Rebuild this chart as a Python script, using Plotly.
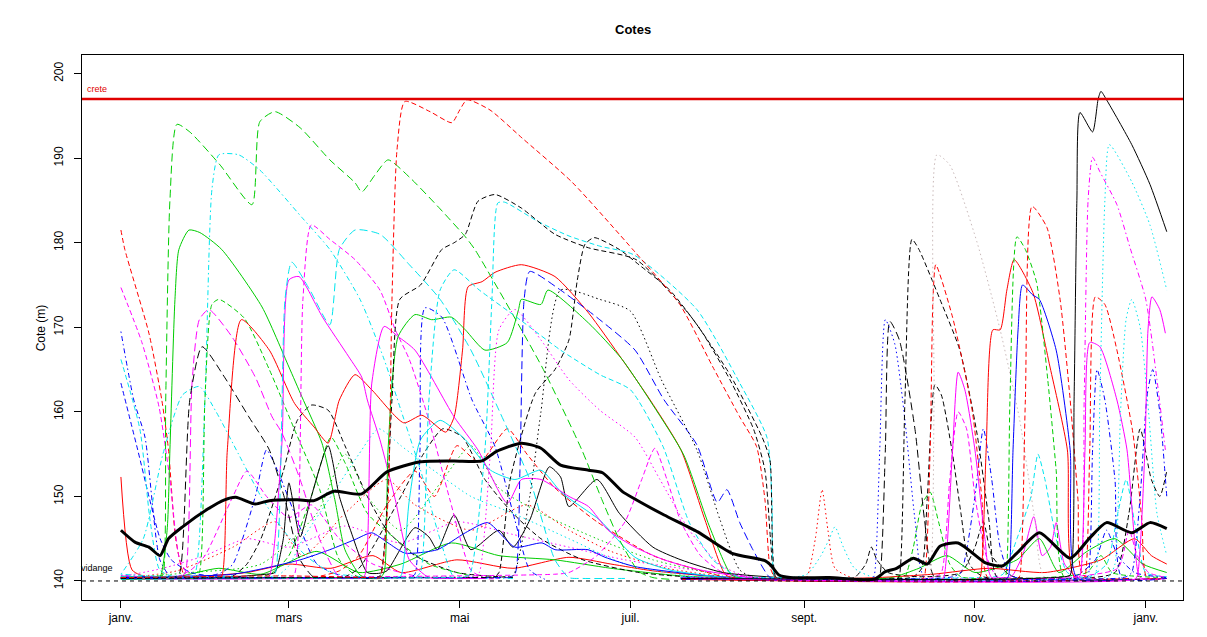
import plotly.graph_objects as go

# ---------------------------------------------------------------------------
# Axes : day of year (leap year) and French month labels
# ---------------------------------------------------------------------------
mois_jours = [0, 60, 121, 182, 244, 305, 366]
mois_labels = ["janv.", "mars", "mai", "juil.", "sept.", "nov.", "janv."]
cote_ticks = [140, 150, 160, 170, 180, 190, 200]

cote_crete = 197.0
cote_vidange = 140.0

# ---------------------------------------------------------------------------
# Simulated reservoir levels: (day, level in m)
# ---------------------------------------------------------------------------
moyenne = [(0, 146.0), (5, 144.6), (10, 144.0), (14, 143.0), (17, 145.0), (22, 146.4),
           (31, 148.5), (37, 149.6), (41, 149.9), (48, 149.1), (53, 149.5), (63, 149.6),
           (69, 149.5), (76, 150.6), (86, 150.3), (95, 152.9), (107, 154.1), (119, 154.2),
           (129, 154.2), (134, 155.3), (143, 156.3), (150, 155.7), (157, 153.7), (167, 153.1),
           (172, 152.8), (179, 150.6), (184, 149.6), (194, 147.8), (206, 145.8), (218, 143.3),
           (230, 142.4), (232, 141.9), (235, 140.7), (239, 140.4), (253, 140.4), (269, 140.2),
           (273, 141.1), (277, 141.5), (283, 142.7), (288, 142.0), (292.5, 144.1), (299, 144.5),
           (309, 142.1), (315, 141.8), (320, 143.3), (328, 145.7), (339, 142.7), (346, 145.1),
           (352, 146.9), (361, 145.7), (367.5, 146.9), (373.5, 146.2)]

s_rouge_tir = [(0, 140.4), (60, 140.6), (90, 140.4), (92.5, 140.4), (95.4, 149.6), (96.8, 173.3),
               (98.6, 191.0), (101.4, 196.7), (110.4, 195.5), (118.2, 194.2), (121, 195.7),
               (123.6, 196.9), (131.8, 195.7), (143.2, 192.4), (161, 187.2), (183.6, 178.9),
               (199.6, 172.7), (211.4, 165.3), (221, 159.4), (227, 155.9), (230, 149.6),
               (231.8, 141.7), (233.6, 140.4), (237, 140.3), (250, 140.3)]

s_vert_long = [(0, 140.3), (10, 140.4), (14, 140.6), (15, 140.7), (16, 161.4), (17.5, 185.0),
               (20, 194.0), (24.6, 193.1), (35.4, 189.2), (46.8, 184.5), (49.6, 194.3), (55, 195.5),
               (64, 193.6), (74.6, 189.8), (83.6, 187.1), (86, 186.0), (90.7, 188.0), (95.4, 189.8),
               (103.2, 187.7), (114, 184.0), (123, 180.7), (126.4, 179.2), (150.4, 165.3),
               (164.6, 155.5), (171.8, 149.6), (178, 144.9), (185, 141.1), (190, 140.4), (196, 140.2)]

s_vert_plein = [(0, 140.3), (12, 140.4), (14, 140.5), (16.5, 146.0), (17.5, 155.5), (19.3, 173.3),
                (20.7, 179.2), (24.3, 181.5), (28.2, 181.2), (36, 179.2), (50.4, 172.4), (60, 165.3),
                (64.6, 161.8), (71.8, 156.3), (76.4, 149.6), (80, 143.7), (85.4, 140.7), (89, 140.3),
                (95, 140.3)]

s_rouge_plein = [(0, 140.3), (34, 140.4), (36, 140.6), (38, 155.5), (43, 170.9), (53, 167.3),
                 (62, 161.0), (69, 158.2), (74, 156.3), (78, 161.4), (83.6, 164.4), (89.6, 162.6),
                 (101, 158.7), (107.5, 159.6), (116, 157.6), (119, 159.4), (122, 167.3), (124, 174.8),
                 (129, 175.4), (133.6, 176.5), (143, 177.4), (155, 176.0), (167, 171.7), (179, 166.2),
                 (189, 161.4), (200, 155.5), (208.6, 147.2), (216, 140.7), (221, 140.3), (228, 140.2)]

s_vert_plein2 = [(0, 140.2), (60, 140.4), (90, 140.4), (92.5, 140.4), (94, 141.0), (95.4, 155.5),
                 (99, 168.9), (105, 171.5), (111, 170.9), (118, 171.2), (123, 169.7), (130, 167.3),
                 (138, 168.2), (142, 172.1), (143, 173.3), (150, 172.7), (152.5, 174.4), (167, 170.5),
                 (179, 166.2), (190, 160.8), (201, 154.9), (210, 146.6), (218, 140.7), (222, 140.3),
                 (228, 140.2)]

s_magenta_plein = [(0, 140.3), (49, 140.3), (51, 140.4), (53, 140.6), (57.5, 156.3), (60, 175.6),
                   (63.6, 176.0), (72, 171.2), (81.4, 166.5), (86, 164.1), (88, 161.4), (92.5, 156.7),
                   (98, 149.6), (103, 142.5), (110, 140.4), (115, 140.3), (130, 140.3)]

s_magenta_plein2 = [(0, 140.2), (83, 140.3), (85, 140.3), (87, 140.6), (89.6, 163.4), (94, 170.1),
                    (99, 168.9), (105, 167.3), (119, 159.4), (127.5, 155.5), (138, 149.2), (143, 152.0),
                    (150, 152.0), (160, 150.0), (167, 148.8), (174, 146.0), (183.6, 144.0), (194, 142.5),
                    (207, 141.3), (228, 140.2)]

s_magenta_tir = [(0, 140.6), (19, 140.4), (21, 140.4), (23, 141.0), (25.4, 163.4), (28, 170.9),
                 (31.4, 172.1), (39.6, 168.9), (48, 164.1), (54, 159.4), (57.5, 157.5), (64, 152.0),
                 (71, 144.9), (78, 140.4), (82, 140.3), (95, 140.3)]

s_vert_tir = [(0, 140.5), (24, 140.4), (26, 140.4), (28, 141.0), (30, 161.4), (32.5, 172.7), (35, 173.3),
              (44, 171.1), (53, 165.0), (62, 157.9), (71, 150.8), (78, 142.5), (85, 140.4), (90, 140.3)]

s_noir_tir = [(0, 140.4), (17, 140.4), (19, 140.4), (21, 141.0), (24.6, 161.4), (29, 167.7), (37, 164.1),
              (45.7, 159.4), (53, 155.5), (58.6, 149.6), (64, 142.5), (69, 140.4), (74, 140.3), (90, 140.3)]

s_rouge_debut = [(0, 181.5), (1.4, 179.2), (10, 169.3), (14.6, 161.4), (17, 155.5), (19.6, 144.9),
                 (23, 140.4), (27, 140.3), (40, 140.3)]

s_magenta_debut = [(0, 174.7), (7.5, 168.2), (13.6, 160.6), (17.5, 152.0), (21, 142.5), (25, 140.4),
                   (30, 140.4), (45, 140.5)]

s_bleu_debut = [(0, 169.5), (4.6, 161.4), (8.6, 157.0), (13.9, 142.5), (18, 140.4), (22, 140.3), (40, 140.3)]

s_cyan_debut = [(0, 166.2), (6.8, 157.9), (10.4, 147.2), (13.9, 141.3), (20, 140.4), (40, 140.6)]

s_cyan_191 = [(0, 140.8), (22, 140.4), (24, 140.4), (26.4, 140.8), (30, 161.4), (32.5, 186.3), (35, 190.4),
              (42, 190.4), (49.6, 188.6), (64.6, 183.0), (74.6, 179.2), (85.4, 173.3), (94, 166.2),
              (100, 160.2), (107, 153.1), (114, 144.9), (119, 140.4), (124, 140.3), (140, 140.3)]

s_cyan_181 = [(0, 140.3), (51, 140.4), (53, 140.4), (55, 140.8), (58.6, 173.3), (61, 177.7), (67.5, 174.4),
              (74.6, 170.3), (78, 179.2), (83.6, 181.5), (92.5, 181.0), (103, 177.4), (114, 173.3),
              (125, 167.3), (135, 160.2), (146, 152.0), (155, 142.5), (160, 140.4), (165, 140.3),
              (180, 140.3)]

s_magenta_182 = [(0, 140.4), (58, 140.4), (60, 140.4), (62, 140.8), (65, 173.3), (68, 182.1), (74.6, 180.4),
                 (83.6, 178.0), (92.5, 174.4), (98, 169.7), (103, 166.2), (110, 159.0), (117.5, 149.6),
                 (125, 141.3), (130, 140.3), (135, 140.3)]

s_noir_185 = [(0, 140.3), (88, 140.4), (90, 140.4), (92.5, 140.6), (96.8, 161.4), (99.6, 173.3),
              (107, 175.0), (114.6, 179.2), (119, 180.0), (123, 181.0), (127.5, 184.9), (133.6, 185.7),
              (143, 184.1), (155, 181.0), (167, 179.4), (184, 178.0), (203, 171.5), (217.5, 164.4),
              (229, 157.0), (231.8, 154.3), (234, 140.4), (238, 140.3), (245, 140.3)]

s_cyan_185 = [(0, 140.2), (120, 140.4), (122, 140.4), (124.6, 140.8), (130, 155.5), (132.5, 173.3),
              (134.6, 184.7), (137, 184.8), (149, 182.5), (160, 180.8), (171, 179.6), (183, 178.6),
              (205.7, 172.1), (221, 163.4), (230.7, 157.0), (232.5, 149.6), (233.6, 140.4), (237, 140.3),
              (245, 140.3)]

s_noir_juil = [(0, 140.3), (131, 140.4), (133, 140.4), (135, 141.0), (139, 152.0), (148, 162.2),
               (155, 165.0), (160, 168.5), (163, 175.6), (165.7, 179.8), (169, 180.6), (178, 179.2),
               (185, 177.4), (196, 174.4), (207, 169.7), (217.5, 163.8), (226, 157.9), (230, 153.1),
               (232, 144.9), (233.6, 140.4), (237, 140.2), (245, 140.2)]

s_noir_point = [(0, 140.4), (136, 140.5), (140, 140.6), (146, 150.0), (150, 160.0), (157, 174.4),
                (171, 173.3), (182, 171.9), (193, 163.8), (205.7, 155.5), (214, 147.2), (221, 141.3),
                (227, 140.3), (235, 140.3)]

s_bleu_176 = [(0, 140.3), (136, 140.4), (138, 140.4), (140.7, 140.8), (142.5, 153.1), (144, 173.3),
              (146, 176.6), (157, 174.4), (171, 170.9), (183.6, 167.3), (194, 161.4), (205.7, 156.1),
              (213, 149.3), (216.4, 150.8), (221, 146.9), (225.7, 143.7), (231.8, 140.4), (236, 140.2),
              (245, 140.2)]

s_bleu_172 = [(0, 140.4), (101, 140.4), (103, 140.4), (105, 140.8), (106.8, 155.5), (108.6, 172.3),
              (114.6, 171.2), (125.4, 161.4), (133.6, 155.9), (140.7, 147.2), (146, 141.3), (151.4, 140.2)]

s_magenta_descente = [(0, 140.3), (124, 140.4), (126, 140.4), (128, 141.0), (132, 155.5), (135, 169.7),
                      (140.7, 172.1), (150, 168.5), (160, 163.8), (171, 160.2), (183.6, 157.0),
                      (192.5, 152.0), (203, 146.0), (214, 141.9), (224.6, 140.4), (230, 140.3), (240, 140.3)]

s_cyan_descente = [(0, 140.5), (103, 140.4), (105, 140.4), (107, 141.0), (110, 161.4), (114, 174.4),
                   (119, 176.8), (128, 174.4), (142.5, 170.9), (157, 167.3), (171, 164.4), (182, 162.6),
                   (193.6, 155.9), (203, 146.9), (211.4, 142.5), (221, 140.4), (226, 140.3), (240, 140.3)]

# lower, busier series (first half of the year)
b_noir_plein = [(0, 140.3), (40, 140.5), (52, 140.8), (55, 141.0), (58, 145.0), (60, 151.6), (64, 145.2),
                (68, 150.0), (74, 156.0), (78, 150.0), (82, 146.0), (88, 141.0), (92, 140.9), (95, 141.2),
                (105, 146.3), (110, 145.2), (113, 143.7), (119, 147.8), (125, 143.7), (135, 146.0),
                (140, 144.0), (146, 147.2), (153, 153.5), (157, 152.3), (160, 148.8), (170, 152.0),
                (178, 148.0), (190, 144.0), (200, 142.5), (215, 141.0), (240, 140.3)]

b_bleu_plein = [(0, 140.5), (40, 140.8), (64, 142.5), (74.6, 143.7), (83.6, 144.9), (89.6, 145.7),
                (95.4, 144.5), (101.4, 143.3), (113, 143.7), (123, 145.7), (131, 146.9), (140.7, 144.0),
                (150.4, 144.5), (155, 143.7), (166.8, 143.7), (172.9, 142.8), (183.6, 141.7), (207, 140.7),
                (228, 140.2)]

b_cyan_plein = [(0, 140.4), (96, 140.4), (98, 140.4), (100, 140.6), (103, 149.6), (107, 156.7), (114, 159.0),
                (123, 156.7), (132, 153.1), (140.7, 152.0), (150, 153.1), (157.5, 150.4), (171, 147.2),
                (183.6, 142.8), (196, 141.3), (221, 140.2)]

b_rouge_plein = [(0, 152.3), (4, 141.3), (10, 140.4), (30, 140.6), (45, 141.0), (60, 142.0), (75, 141.5),
                 (90, 143.0), (100, 141.0), (120, 142.5), (140, 141.5), (160, 142.8), (175, 142.0),
                 (190, 141.2), (220, 140.3)]

b_vert_plein = [(0, 140.2), (20, 140.5), (35, 141.5), (50, 140.8), (70, 143.5), (85, 141.0), (100, 142.0),
                (118, 144.5), (135, 143.0), (155, 142.5), (175, 141.5), (200, 140.6), (230, 140.2)]

b_bleu_debut2 = [(0, 163.4), (6, 155.5), (10, 150.0), (14, 145.0), (18, 142.5), (25, 141.0), (35, 140.5),
                 (60, 140.4)]

b_bleu_fev = [(0, 140.6), (30, 140.5), (36, 141.0), (40, 142.0), (48, 150.0), (52, 155.5), (56, 153.0),
              (62, 148.0), (70, 142.0), (80, 140.5), (100, 140.4)]

b_cyan_janv = [(0, 140.8), (8, 145.0), (15, 155.0), (22, 162.0), (28, 163.0), (34, 160.0), (42, 155.0),
               (50, 150.0), (58, 146.0), (66, 143.0), (75, 141.0), (90, 140.4)]

b_magenta_point = [(0, 140.5), (15, 141.5), (30, 143.0), (45, 145.0), (60, 144.0), (80, 146.5), (100, 144.5),
                   (120, 147.0), (140, 145.5), (160, 144.0), (180, 142.5), (200, 141.5), (230, 140.3)]

b_vert_point = [(0, 140.3), (25, 141.0), (50, 142.0), (70, 148.0), (80, 155.0), (88, 150.0), (100, 146.0),
                (115, 152.0), (125, 156.0), (135, 151.0), (150, 148.0), (170, 145.0), (190, 142.5),
                (215, 140.6)]

b_rouge_point = [(0, 140.3), (20, 141.2), (40, 144.0), (55, 147.0), (65, 143.0), (80, 148.0), (95, 152.0),
                 (105, 149.0), (125, 146.0), (145, 149.0), (160, 146.0), (175, 143.5), (195, 141.5),
                 (220, 140.3)]

b_noir_fev = [(0, 140.4), (36, 140.4), (40, 140.6), (45, 142.0), (50, 145.0), (58, 153.0), (63, 159.0),
              (68, 160.8), (74, 160.2), (80, 156.0), (88, 150.0), (95, 146.0), (105, 143.0), (120, 141.0),
              (140, 140.4)]

b_noir_avr = [(0, 140.3), (75, 140.4), (80, 140.5), (85, 141.5), (90, 144.0), (100, 150.0), (108, 155.0),
              (115, 158.0), (122, 157.0), (130, 152.0), (140, 148.0), (150, 145.0), (165, 142.5),
              (185, 141.0), (210, 140.3)]

b_rouge_mai = [(0, 140.4), (65, 140.4), (70, 140.5), (78, 141.2), (85, 143.0), (95, 149.0), (105, 153.0),
               (112, 150.0), (120, 156.0), (128, 154.0), (138, 158.0), (145, 155.0), (155, 151.0),
               (170, 147.0), (190, 143.0), (215, 140.5)]

b_cyan_point = [(0, 140.4), (50, 140.3), (55, 140.4), (60, 141.8), (65, 145.0), (75, 150.0), (85, 155.0),
                (92, 158.0), (100, 156.0), (112, 153.0), (125, 150.0), (140, 148.0), (160, 145.0),
                (180, 142.0), (205, 140.5)]

b_magenta_fev = [(0, 140.3), (16, 140.4), (20, 140.5), (25, 141.3), (30, 143.0), (40, 150.0), (45, 153.0),
                 (52, 150.0), (60, 147.5), (68, 149.0), (78, 145.0), (90, 142.0), (105, 140.6)]

b_vert_mars = [(0, 140.5), (46, 140.3), (50, 140.4), (55, 141.2), (60, 143.0), (68, 150.0), (75, 157.0),
               (80, 154.0), (88, 148.0), (98, 145.0), (110, 142.0), (125, 140.6)]

b_magenta_juil = [(0, 140.3), (155, 140.8), (160, 141.0), (170, 143.0), (180, 147.0), (186, 152.0),
                  (190.7, 155.7), (195, 152.0), (200, 147.0), (207, 143.0), (215, 141.0), (230, 140.3)]

# late summer blips
b_cyan_sept = [(200, 140.4), (235, 140.3), (245, 140.8), (250, 143.0), (253, 145.0), (255, 146.4),
               (258, 144.0), (262, 141.5), (270, 140.3), (300, 140.4)]

b_rose_sept = [(200, 140.3), (235, 140.2), (243, 140.3), (245, 140.5), (248, 145.0), (250.4, 150.8),
               (252.5, 146.0), (255, 141.5), (262, 140.3), (300, 140.3)]

# autumn floods
a_noir_plein = [(200, 140.3), (314, 140.2), (337, 140.5), (339, 140.7), (340.4, 161.4), (341.4, 185.0),
                (342.5, 195.4), (347, 193.1), (349, 197.0), (350, 197.9), (352, 196.9), (361, 191.6),
                (367.5, 186.9), (373.5, 181.3)]

a_cyan_point = [(200, 140.4), (346, 140.4), (348, 140.8), (349.6, 161.4), (351.4, 185.0), (353, 191.6),
                (361, 187.2), (367.5, 182.1), (373.5, 174.4)]

a_magenta_tir = [(200, 140.3), (340, 140.4), (342.5, 140.8), (344, 161.4), (345.4, 185.0), (347, 190.1),
                 (349.6, 188.4), (355.7, 184.5), (360.4, 179.4), (366, 173.3), (370, 163.8), (373, 155.5)]

a_gris_point = [(200, 140.2), (288, 140.3), (289, 140.6), (290.4, 161.4), (291.4, 190.4), (296, 189.2),
                (305.7, 180.1), (314, 169.7), (321, 159.0), (326.4, 147.2), (330, 140.4), (360, 140.3)]

a_rouge_184 = [(200, 140.3), (320, 140.2), (321, 140.6), (323, 161.4), (325.4, 184.3), (330.7, 181.8),
               (335.4, 173.3), (339, 161.4), (341.8, 149.6), (343.6, 140.7), (360, 140.3)]

a_vert_181 = [(200, 140.4), (315, 140.2), (316, 140.6), (317.5, 161.4), (320, 180.7), (323, 179.2),
              (327, 175.3), (331, 163.8), (334, 153.1), (337, 140.4), (360, 140.3)]

a_rouge_178 = [(200, 140.2), (306, 140.2), (307, 140.6), (309, 155.5), (311.4, 169.7), (314, 169.7),
               (316.4, 174.4), (319, 178.0), (325.7, 174.1), (331.8, 165.3), (338, 155.5), (340.7, 140.4),
               (360, 140.3)]

a_bleu_175 = [(200, 140.3), (316, 140.2), (317, 140.6), (318.6, 155.5), (320.4, 169.7), (322, 175.0),
              (325.7, 173.8), (328, 173.3), (334, 167.3), (339, 155.5), (341.4, 140.4), (360, 140.3)]

a_rouge_oct = [(200, 140.4), (286, 140.2), (287, 140.6), (289, 155.5), (290, 173.3), (291, 177.4),
               (297, 171.2), (304, 160.2), (307.5, 149.6), (309.6, 140.4), (330, 140.3)]

a_noir_oct = [(200, 140.3), (277, 140.2), (278, 140.6), (280, 161.4), (282.5, 180.4), (285, 179.2),
              (292.5, 173.3), (299.6, 167.3), (305.7, 157.5), (310, 147.2), (313, 140.4), (330, 140.3)]

a_noir_sept = [(200, 140.4), (270, 140.2), (271, 140.6), (273, 155.5), (274.6, 170.7), (278, 168.5),
               (283.6, 157.9), (287, 147.2), (290.7, 140.4), (310, 140.3)]

a_bleu_sept = [(200, 140.3), (268, 140.2), (269, 140.6), (271, 155.5), (273, 170.9), (276.4, 168.0),
               (280, 159.0), (283.6, 147.2), (287, 140.4), (310, 140.3)]

a_magenta_oct = [(200, 140.3), (293, 140.2), (294, 140.6), (297, 155.5), (299, 164.7), (301.4, 162.6),
                 (305, 155.5), (308.6, 144.9), (311, 140.4), (330, 140.3)]

a_magenta_dec = [(200, 140.4), (341, 140.2), (342.5, 140.6), (344.3, 155.5), (346, 168.2), (349.6, 167.7),
                 (355.7, 161.4), (359.3, 155.5), (362, 144.9), (364, 140.4), (373.5, 140.3)]

a_magenta_fin = [(200, 140.3), (362, 140.2), (363, 140.6), (365.7, 155.5), (366.8, 169.7), (368.2, 173.6),
                 (371, 172.1), (373, 169.3)]

a_rouge_dec = [(200, 140.2), (343, 140.2), (344.3, 140.6), (346, 155.5), (348, 173.6), (351.4, 172.7),
               (355.7, 167.3), (361.4, 157.5), (364.6, 147.2), (366.4, 140.4), (373.5, 140.3)]

a_bleu_dec = [(200, 140.4), (344, 140.2), (345.4, 140.6), (347, 155.5), (348.6, 165.0), (351.4, 161.4),
              (355, 152.0), (357.5, 140.4), (373.5, 140.3)]

a_noir_tir = [(200, 140.3), (258, 140.3), (262, 140.4), (266, 142.0), (268, 144.0), (270, 142.5), (274, 141.0),
              (285, 140.5), (300, 141.0), (305, 144.0), (308, 147.0), (311, 143.0), (318, 140.6),
              (340, 140.3), (355, 141.0), (360, 148.0), (364, 158.0), (368, 152.0), (371, 150.0),
              (373.5, 153.0)]

a_cyan_tir = [(200, 140.5), (290, 140.3), (312, 140.5), (315, 140.8), (320, 145.0), (325, 150.0),
              (327.5, 155.0), (330, 152.0), (334, 145.0), (338, 141.0), (345, 140.4), (352, 142.0),
              (356, 148.0), (359, 152.0), (362, 147.0), (366, 141.0), (373.5, 140.5)]

a_magenta_bas = [(200, 140.3), (300, 140.2), (315, 140.4), (318, 140.5), (322, 143.0), (326, 147.6),
                 (329, 143.0), (332, 144.0), (334, 146.9), (337, 142.0), (342, 140.4), (373.5, 140.3)]

a_vert_tir = [(200, 140.4), (270, 140.2), (278, 140.4), (280, 140.5), (283, 144.0), (286, 149.0),
              (289, 150.5), (292, 147.0), (296, 142.0), (300, 140.5), (330, 140.4), (345, 141.0),
              (350, 143.0), (354, 141.0), (373.5, 140.4)]

a_bleu_oct = [(200, 140.3), (290, 140.3), (297, 140.5), (300, 141.0), (305, 150.0), (308, 158.0),
              (311, 152.0), (314, 144.0), (318, 140.6), (340, 140.4), (348, 142.5), (352, 146.0),
              (356, 143.0), (362, 141.0), (373.5, 140.4)]

a_magenta_tir2 = [(200, 140.2), (285, 140.2), (290, 140.4), (293, 141.0), (296, 152.0), (299, 160.0),
                  (302, 158.0), (305, 150.0), (309, 143.0), (313, 140.5), (330, 140.3), (356, 141.5),
                  (360, 146.0), (363, 143.0), (367, 141.0), (373.5, 140.4)]

a_noir_163 = [(200, 140.4), (280, 140.3), (283, 140.5), (286, 141.5), (288, 150.0), (290.7, 163.2),
              (293, 162.0), (297, 155.0), (300, 148.0), (303, 142.0), (308, 140.5), (373.5, 140.3)]

a_cyan_dec = [(200, 140.3), (350, 140.3), (353, 140.6), (355, 142.0), (357, 160.0), (359, 171.0),
              (361, 173.3), (364, 170.0), (367, 160.0), (370, 148.0), (373.5, 143.0)]

a_bleu_fin = [(200, 140.2), (355, 140.3), (359, 140.5), (361, 141.0), (364, 150.0), (366.5, 162.0),
              (368.5, 165.0), (371, 160.0), (373.5, 150.0)]

a_vert_plein = [(200, 140.3), (250, 140.2), (275, 140.4), (285, 141.5), (295, 143.0), (305, 141.0),
                (320, 142.5), (328, 145.0), (335, 141.0), (345, 143.5), (355, 145.0), (365, 142.0),
                (373.5, 141.0)]

a_rouge_plein = [(200, 140.4), (240, 140.2), (270, 140.4), (290, 140.8), (310, 141.5), (330, 141.0),
                 (350, 142.5), (362, 145.0), (368, 143.0), (373.5, 142.0)]

# ---------------------------------------------------------------------------
# Styles (R default palette, lty patterns)
# ---------------------------------------------------------------------------
couleurs = {"noir": "#000000", "rouge": "#FF0000", "vert": "#00CD00", "bleu": "#0000FF",
            "cyan": "#00E5EE", "magenta": "#FF00FF", "gris": "#C9B9B9"}
tirets = {"plein": "solid", "tiret": "5px,3px", "point": "1.5px,3px",
          "pointtiret": "1.5px,3px,5px,3px", "long": "8px,4px"}

series = [
    # low busy layer first
    (b_rouge_plein, "rouge", "plein"), (b_vert_plein, "vert", "plein"),
    (b_bleu_debut2, "bleu", "tiret"), (b_bleu_fev, "bleu", "pointtiret"),
    (b_cyan_janv, "cyan", "pointtiret"), (b_magenta_point, "magenta", "point"),
    (b_vert_point, "vert", "point"), (b_rouge_point, "rouge", "point"),
    (b_noir_fev, "noir", "tiret"), (b_noir_avr, "noir", "tiret"),
    (b_rouge_mai, "rouge", "tiret"), (b_cyan_point, "cyan", "point"),
    (b_magenta_fev, "magenta", "tiret"), (b_vert_mars, "vert", "tiret"),
    (b_magenta_juil, "magenta", "tiret"), (b_cyan_sept, "cyan", "point"),
    (b_rose_sept, "rouge", "point"), (b_noir_plein, "noir", "plein"),
    (b_bleu_plein, "bleu", "plein"), (b_cyan_plein, "cyan", "plein"),
    (a_noir_tir, "noir", "tiret"), (a_cyan_tir, "cyan", "tiret"),
    (a_magenta_bas, "magenta", "plein"), (a_vert_tir, "vert", "tiret"),
    (a_bleu_oct, "bleu", "pointtiret"), (a_magenta_tir2, "magenta", "tiret"),
    (a_noir_163, "noir", "tiret"), (a_vert_plein, "vert", "plein"),
    (a_rouge_plein, "rouge", "plein"),
    # start-of-year levels
    (s_rouge_debut, "rouge", "tiret"), (s_magenta_debut, "magenta", "tiret"),
    (s_bleu_debut, "bleu", "pointtiret"), (s_cyan_debut, "cyan", "tiret"),
    # larger floods, first half
    (s_vert_long, "vert", "long"), (s_vert_plein, "vert", "plein"),
    (s_cyan_191, "cyan", "pointtiret"), (s_magenta_tir, "magenta", "long"),
    (s_vert_tir, "vert", "tiret"), (s_noir_tir, "noir", "long"),
    (s_rouge_plein, "rouge", "plein"), (s_magenta_plein, "magenta", "plein"),
    (s_cyan_181, "cyan", "long"), (s_magenta_182, "magenta", "tiret"),
    (s_magenta_plein2, "magenta", "plein"), (s_vert_plein2, "vert", "plein"),
    (s_bleu_172, "bleu", "pointtiret"), (s_cyan_descente, "cyan", "tiret"),
    (s_magenta_descente, "magenta", "point"), (s_bleu_176, "bleu", "long"),
    (s_noir_point, "noir", "point"), (s_noir_juil, "noir", "tiret"),
    (s_cyan_185, "cyan", "tiret"), (s_noir_185, "noir", "tiret"),
    (s_rouge_tir, "rouge", "tiret"),
    # autumn floods
    (a_noir_sept, "noir", "long"), (a_bleu_sept, "bleu", "point"),
    (a_noir_oct, "noir", "tiret"), (a_rouge_oct, "rouge", "tiret"),
    (a_gris_point, "gris", "point"), (a_magenta_oct, "magenta", "plein"),
    (a_rouge_178, "rouge", "plein"), (a_vert_181, "vert", "tiret"),
    (a_bleu_175, "bleu", "plein"), (a_rouge_184, "rouge", "tiret"),
    (a_magenta_dec, "magenta", "plein"), (a_rouge_dec, "rouge", "tiret"),
    (a_bleu_dec, "bleu", "pointtiret"), (a_magenta_tir, "magenta", "pointtiret"),
    (a_cyan_point, "cyan", "point"), (a_cyan_dec, "cyan", "point"),
    (a_bleu_fin, "bleu", "pointtiret"), (a_magenta_fin, "magenta", "plein"),
    (a_noir_plein, "noir", "plein"),
]

fig = go.Figure()

for pts, coul, lty in series:
    fig.add_trace(go.Scatter(
        x=[p[0] for p in pts], y=[p[1] for p in pts], mode="lines",
        line=dict(color=couleurs[coul], width=1, dash=tirets[lty], shape="spline", smoothing=0.6),
        hoverinfo="skip", showlegend=False))

# mean level, thick black
fig.add_trace(go.Scatter(
    x=[p[0] for p in moyenne], y=[p[1] for p in moyenne], mode="lines",
    line=dict(color="#000000", width=3, shape="spline", smoothing=0.6),
    hoverinfo="skip", showlegend=False))

# reference levels
fig.add_shape(type="line", xref="paper", x0=0, x1=1, y0=cote_crete, y1=cote_crete,
              line=dict(color="#E00000", width=2.5))
fig.add_shape(type="line", xref="paper", x0=0, x1=1, y0=cote_vidange, y1=cote_vidange,
              line=dict(color="#000000", width=1, dash="4px,4px"))
fig.add_annotation(x=-8.5, y=cote_crete, text="crete", showarrow=False, yanchor="bottom",
                   yshift=3, font=dict(family="Liberation Sans, Arial", size=9, color="#E00000"))
fig.add_annotation(x=-8.5, y=cote_vidange, text="vidange", showarrow=False, yanchor="bottom",
                   yshift=6, font=dict(family="Liberation Sans, Arial", size=9, color="#000000"))

# titles
fig.add_annotation(xref="paper", yref="paper", x=0.5, y=1.064, text="<b>Cotes</b>", showarrow=False,
                   font=dict(family="Liberation Sans, Arial", size=13, color="#000000"))
fig.add_annotation(xref="paper", yref="paper", x=-0.041, y=0.5, text="Cote (m)", showarrow=False,
                   xshift=-5, textangle=-90,
                   font=dict(family="Liberation Sans, Arial", size=12, color="#000000"))

axis_font = dict(family="Liberation Sans, Arial", size=12, color="#000000")
fig.update_xaxes(range=[-13.9, 379.3], tickvals=mois_jours, ticktext=mois_labels,
                 showgrid=False, zeroline=False, showline=True, mirror=True, linecolor="#000000",
                 linewidth=1, ticks="outside", ticklen=7, tickcolor="#000000", tickfont=axis_font)
fig.update_yaxes(range=[137.75, 202.2], tickvals=cote_ticks, tickangle=-90, ticklabelstandoff=6,
                 showgrid=False, zeroline=False, showline=True, mirror=True, linecolor="#000000",
                 linewidth=1, ticks="outside", ticklen=7, tickcolor="#000000", tickfont=axis_font)

fig.update_layout(width=1207, height=637, margin=dict(l=82, r=24, t=55, b=37),
                  paper_bgcolor="#FFFFFF", plot_bgcolor="#FFFFFF")

fig.write_html("out.html", include_plotlyjs=True, config={"displayModeBar": False})
